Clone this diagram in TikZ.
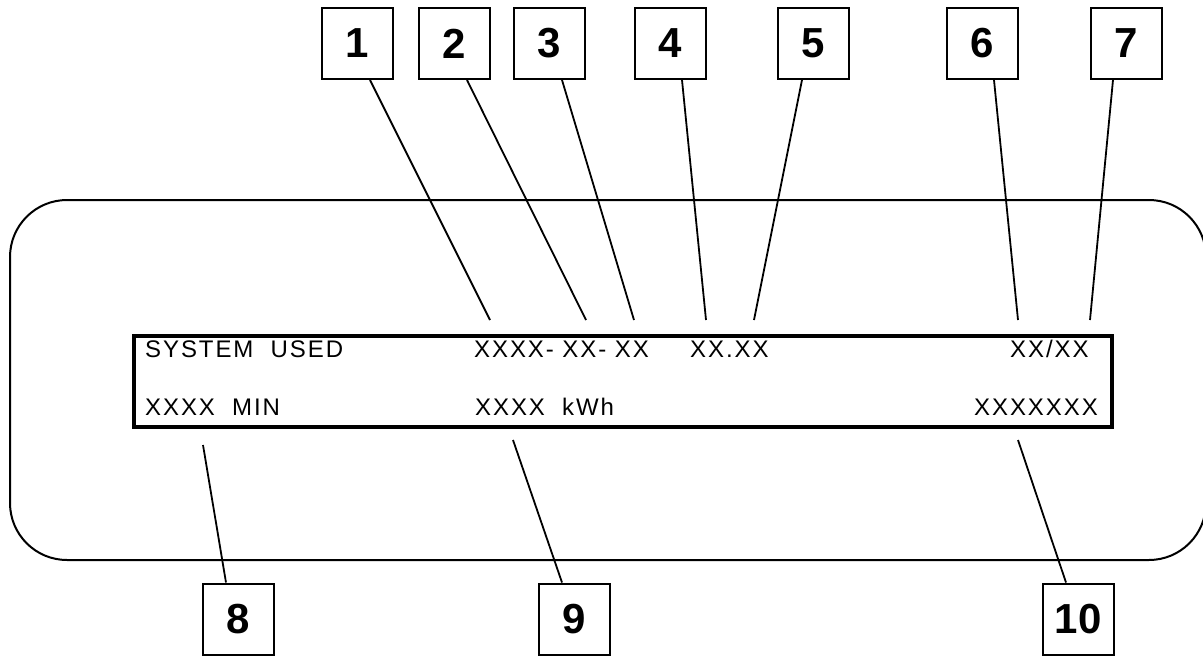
\documentclass[tikz,border=0pt]{standalone}
\usepackage{fontspec}
\setmainfont{Liberation Sans}
\newfontfamily\lcdfont[LetterSpace=8]{Liberation Sans}
\usetikzlibrary{calc}
\tikzset{
  numbox/.style={draw, line width=2pt, minimum size=71pt, inner sep=0pt,
    font=\fontsize{42}{42}\selectfont\bfseries},
  lcd/.style={anchor=base west, inner sep=0pt, font=\fontsize{24}{28}\selectfont\lcdfont},
  lead/.style={line width=1.8pt},
}
\begin{document}
\begin{tikzpicture}[x=1pt,y=-1pt]
\useasboundingbox (0,0) rectangle (1203,656);
% housing
\draw[line width=2pt, rounded corners=57pt] (10,200) rectangle (1206,560);
% display
\node[draw, line width=4pt, minimum width=978pt, minimum height=91pt, inner sep=0pt, anchor=north west] (disp) at (132,334) {};
% texts
\node[lcd] (sys) at (145,357) {SYSTEM~~USED};
\node[lcd] (date) at (474,357) {XXXX-~XX-~XX};
\node[lcd] (time) at (690,357) {XX.XX};
\node[lcd] (page) at (1010,357) {XX/XX};
\node[lcd] (min) at (145,415) {XXXX~~MIN};
\node[lcd] (kwh) at (475,415) {XXXX~~kWh};
\node[lcd] (code) at (974,415) {XXXXXXX};
% number boxes
\node[numbox] (b1) at (357.5,43.5) {1};
\node[numbox] (b2) at (454,43.5) {2};
\node[numbox] (b3) at (549.5,43.5) {3};
\node[numbox] (b4) at (670,43.5) {4};
\node[numbox] (b5) at (813.5,43.5) {5};
\node[numbox] (b6) at (982,43.5) {6};
\node[numbox] (b7) at (1126,43.5) {7};
\node[numbox] (b8) at (238,619) {8};
\node[numbox] (b9) at (574,619) {9};
\node[numbox] (b10) at (1078,619) {10};
% leader end points
\coordinate (t1) at (490,320);
\coordinate (t2) at (586,320);
\coordinate (t3) at (634,320);
\coordinate (t4) at (706,320);
\coordinate (t5) at (754,320);
\coordinate (t6) at (1018,320);
\coordinate (t7) at (1090,320);
\coordinate (e8) at (203,445);
\coordinate (e9) at (513,440);
\coordinate (e10) at (1018,440);
% leaders
\draw[lead] ($(b1.south)+(12.5,0)$) -- (t1);
\draw[lead] ($(b2.south)+(13,0)$) -- (t2);
\draw[lead] ($(b3.south)+(12.5,0)$) -- (t3);
\draw[lead] ($(b4.south)+(12,0)$) -- (t4);
\draw[lead] ($(b5.south)+(-11.5,0)$) -- (t5);
\draw[lead] ($(b6.south)+(12,0)$) -- (t6);
\draw[lead] ($(b7.south)+(-13,0)$) -- (t7);
\draw[lead] ($(b8.north)+(-12,0)$) -- (e8);
\draw[lead] ($(b9.north)+(-12,0)$) -- (e9);
\draw[lead] ($(b10.north)+(-12,0)$) -- (e10);
\end{tikzpicture}
\end{document}
